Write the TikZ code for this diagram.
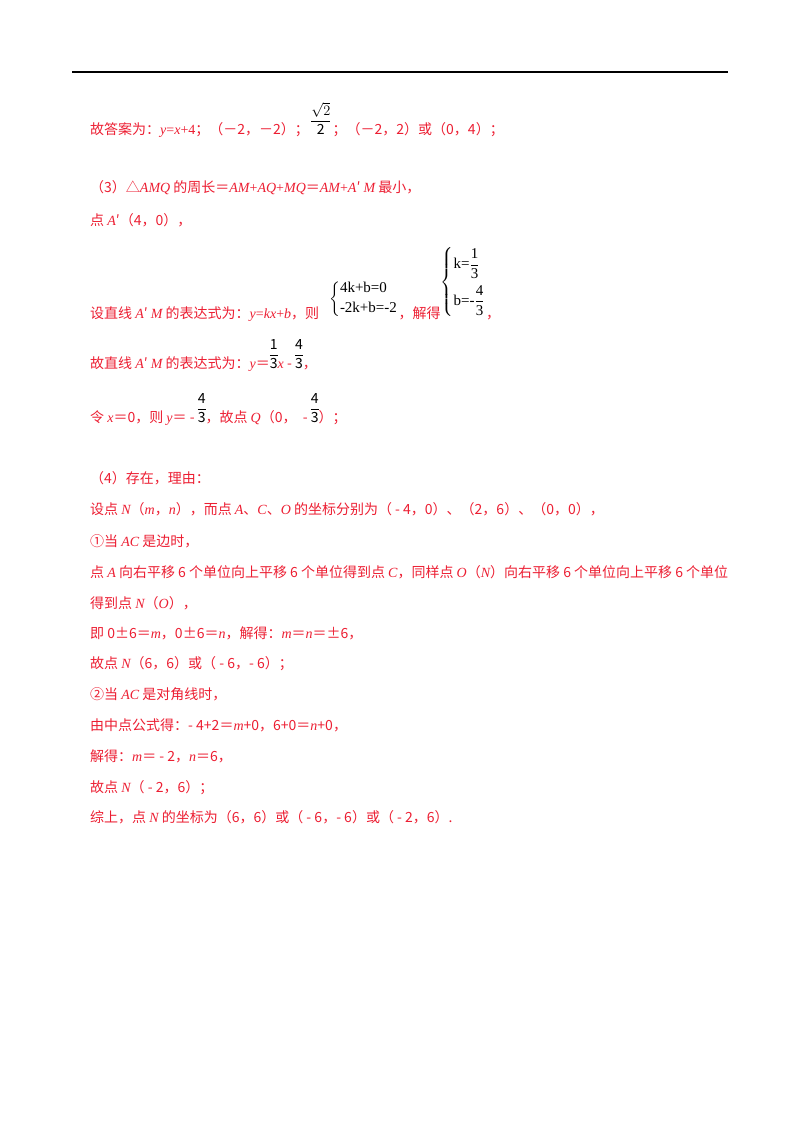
\documentclass[tikz,border=0pt]{standalone}
\usepackage{fontspec}
\usepackage{amsmath}
\setmainfont{Noto Sans CJK SC}
\newfontfamily\lat{Liberation Serif}
\newcommand{\I}[1]{{\lat\itshape #1}}
\newcommand{\R}[1]{{\lat #1}}
\definecolor{ans}{RGB}{236,30,50}
\newcommand{\fr}[2]{{\color{black}\renewcommand{\arraystretch}{1.1}\setlength{\arrayrulewidth}{0.6pt}\begin{tabular}[b]{@{}c@{}}#1\\\hline #2\end{tabular}}}
\begin{document}
\begin{tikzpicture}[x=1pt,y=-1pt,
  t/.style={anchor=base west,inner sep=0pt,text=ans,font=\fontsize{14}{16}\selectfont},
  m/.style={anchor=base west,inner sep=0pt,font=\fontsize{15}{17}\selectfont}]
\useasboundingbox (0,0) rectangle (800,1132);
\draw[line width=1.3pt] (72,72) -- (728,72);
\node[t] (l1) at (90,134) {故答案为：\I{y}\R{=}\I{x}\R{+4}；（－2，－2）；\,\fr{$\sqrt{2}$}{2}\,；（－2，2）或（0，4）；};
\node[t] (l2) at (90,192) {（3）△\I{AMQ} 的周长＝\I{AM}\R{+}\I{AQ}\R{+}\I{MQ}＝\I{AM}\R{+}\I{A}′ \I{M} 最小，};
\node[t] (l3) at (90,225) {点 \I{A}′（4，0），};
\node[t] (l4) at (90,318) {设直线 \I{A}′ \I{M} 的表达式为：\I{y}\R{=}\I{kx}\R{+}\I{b}，则};
\node[m,anchor=west] (s1) at (329,299) {$\left\{\begin{array}{@{}l@{}}\text{\R{4k+b=0}}\\[3pt]\text{\R{-2k+b=-2}}\end{array}\right.$};
\node[t,anchor=base west] (l4b) at (s1.east |- 0,318) {，解得};
\node[m,anchor=west] (s2) at (l4b.east |- 0,282) {$\left\{\begin{array}{@{}l@{}}\text{\R{k=}}\dfrac{\text{\R{1}}}{\text{\R{3}}}\\[12pt]\text{\R{b=-}}\dfrac{\text{\R{4}}}{\text{\R{3}}}\end{array}\right.$};
\node[t] at (s2.east |- 0,318) {，};
\node[t] (l5) at (90,368) {故直线 \I{A}′ \I{M} 的表达式为：\I{y}＝\fr{1}{3}\I{x} - \fr{4}{3}，};
\node[t] (l6) at (90,422) {令 \I{x}＝0，则 \I{y}＝ - \fr{4}{3}，故点 \I{Q}（0，\ \ - \fr{4}{3}）；};
\node[t] at (90,483) {（4）存在，理由：};
\node[t] at (90,514) {设点 \I{N}（\I{m}，\I{n}），而点 \I{A}、\I{C}、\I{O} 的坐标分别为（ - 4，0）、（2，6）、（0，0），};
\node[t] at (90,546) {①当 \I{AC} 是边时，};
\node[t] at (90,577) {点 \I{A} 向右平移 6 个单位向上平移 6 个单位得到点 \I{C}，同样点 \I{O}（\I{N}）向右平移 6 个单位向上平移 6 个单位};
\node[t] at (90,608) {得到点 \I{N}（\I{O}），};
\node[t] at (90,638) {即 0±6＝\I{m}，0±6＝\I{n}，解得：\I{m}＝\I{n}＝±6，};
\node[t] at (90,668) {故点 \I{N}（6，6）或（ - 6，- 6）；};
\node[t] at (90,699) {②当 \I{AC} 是对角线时，};
\node[t] at (90,730) {由中点公式得：- 4+2＝\I{m}+0，6+0＝\I{n}+0，};
\node[t] at (90,761) {解得：\I{m}＝ - 2，\I{n}＝6，};
\node[t] at (90,792) {故点 \I{N}（ - 2，6）；};
\node[t] at (90,822) {综上，点 \I{N} 的坐标为（6，6）或（ - 6，- 6）或（ - 2，6）.};
\end{tikzpicture}
\end{document}
